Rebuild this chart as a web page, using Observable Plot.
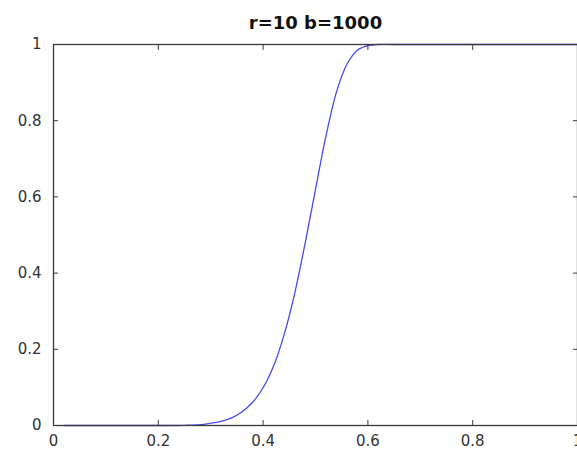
<!DOCTYPE html>
<html>
<head>
<meta charset="utf-8">
<script src="https://cdn.jsdelivr.net/npm/d3@7"></script>
<script src="https://cdn.jsdelivr.net/npm/@observablehq/plot@0.6"></script>
<style>
  html, body { margin: 0; padding: 0; background: #fff; }
  #chart svg { display: block; }
</style>
</head>
<body>
<div id="chart"></div>
<script>
const titleText = "r=10 b=1000";
const sValues = [0.02, 0.05, 0.1, 0.15, 0.2, 0.25, 0.28, 0.30, 0.32, 0.34, 0.36, 0.38, 0.40, 0.42, 0.44, 0.46, 0.48, 0.50, 0.52, 0.54, 0.56, 0.58, 0.60, 0.62, 0.65, 0.7, 0.8, 0.9, 1.0];
const pValues = [0, 0, 0, 0, 0, 0.0005, 0.002, 0.006, 0.011, 0.02, 0.036, 0.061, 0.099, 0.156, 0.238, 0.345, 0.477, 0.62, 0.76, 0.875, 0.948, 0.985, 0.997, 1, 1, 1, 1, 1, 1];
const xTicks = [0, 0.2, 0.4, 0.6, 0.8, 1];
const yTicks = [0, 0.2, 0.4, 0.6, 0.8, 1];

const data = sValues.map((s, i) => ({s, p: pValues[i]}));
const fmt = d => String(+d.toFixed(1));
const axisColor = "#3a3a3a";

const chart = Plot.plot({
  width: 577,
  height: 451,
  marginLeft: 53,
  marginRight: 0,
  marginTop: 44,
  marginBottom: 26,
  style: {fontFamily: "'DejaVu Sans', sans-serif", fontSize: "15px", color: "#333", background: "#fff"},
  x: {domain: [0, 1]},
  y: {domain: [0, 1]},
  marks: [
    Plot.line(data, {x: "s", y: "p", stroke: "#4a4ae6", strokeWidth: 1.3, curve: "catmull-rom"}),
    Plot.frame({stroke: axisColor, strokeWidth: 1.3}),
    Plot.axisX(xTicks, {anchor: "bottom", tickSize: 0, tickPadding: 10, tickFormat: fmt, label: null, fontSize: 15}),
    Plot.axisY(yTicks, {anchor: "left", tickSize: 0, tickPadding: 12, tickFormat: fmt, label: null, fontSize: 15}),
    Plot.axisX(xTicks, {anchor: "bottom", tickSize: -5, tickFormat: () => "", label: null, stroke: axisColor}),
    Plot.axisX(xTicks, {anchor: "top", tickSize: -5, tickFormat: () => "", label: null, stroke: axisColor}),
    Plot.axisY(yTicks, {anchor: "left", tickSize: -5, tickFormat: () => "", label: null, stroke: axisColor}),
    Plot.axisY(yTicks, {anchor: "right", tickSize: -5, tickFormat: () => "", label: null, stroke: axisColor}),
    Plot.text([titleText], {frameAnchor: "top", dy: -16, lineAnchor: "bottom", fontWeight: "bold", fontSize: 18, fill: "#111", text: d => d})
  ]
});
document.getElementById("chart").appendChild(chart);
</script>
</body>
</html>
